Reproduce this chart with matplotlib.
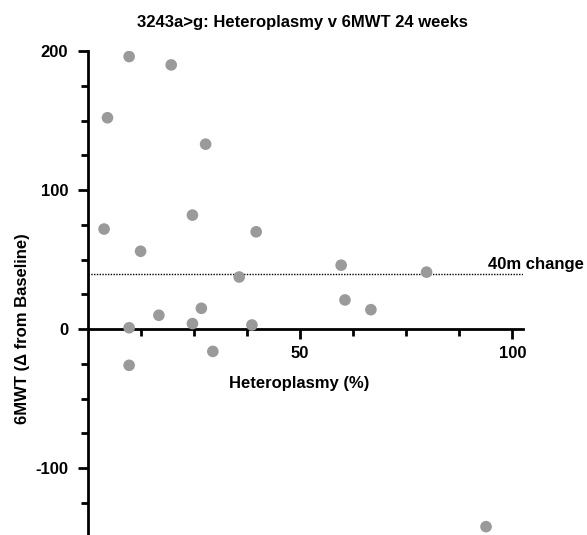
import matplotlib
matplotlib.use("Agg")
import matplotlib.pyplot as plt
from matplotlib.ticker import MultipleLocator, FixedLocator

plt.rcParams['font.family'] = ['Liberation Sans', 'DejaVu Sans']
plt.rcParams['axes.unicode_minus'] = False

heteroplasmy = [9.8, 19.7, 4.7, 27.8, 24.7, 3.9, 39.7, 12.5, 35.7, 59.7, 79.8,
                60.6, 66.7, 16.8, 26.8, 24.7, 38.7, 9.8, 29.5, 9.8, 93.8]
mwt_change = [196, 190, 152, 133, 82, 72, 70, 56, 37.5, 46, 41,
              21, 14, 10, 15, 4, 3, 1, -16, -26, -142]
threshold = 40
title = "3243a>g: Heteroplasmy v 6MWT 24 weeks"

fig = plt.figure(figsize=(5.87, 5.35), dpi=100)
ax = fig.add_axes([87.5/587, 0.0, (523-87.5)/587, (535-51)/535])
ax.set_xlim(0, 102.5)
ax.set_ylim(-148, 200)

ax.scatter(heteroplasmy, mwt_change, s=70, color='#9a9a9a', edgecolors='none', zorder=3)
ax.axhline(threshold, color='black', linestyle=(0, (1, 1)), linewidth=1.0, xmax=1.0)
ax.text(94.3, 46.5, "40m change", fontsize=12, fontweight='bold', va='center', ha='left', clip_on=False)

for s in ['top', 'right']:
    ax.spines[s].set_visible(False)
ax.spines['bottom'].set_position(('data', 0))
ax.spines['left'].set_linewidth(2)
ax.spines['bottom'].set_linewidth(2)

ax.xaxis.set_major_locator(FixedLocator([50, 100]))
ax.xaxis.set_minor_locator(FixedLocator([12.5, 25, 37.5, 62.5, 75, 87.5]))
ax.yaxis.set_major_locator(FixedLocator([-100, 0, 100, 200]))
ax.yaxis.set_minor_locator(MultipleLocator(25))
ax.tick_params(which='major', length=7, width=2, labelsize=12, pad=7)
ax.tick_params(axis='x', which='major', pad=5)
ax.tick_params(which='minor', length=5, width=2)
for lab in ax.get_xticklabels() + ax.get_yticklabels():
    lab.set_fontweight('bold')

ax.set_xlabel("Heteroplasmy (%)", fontsize=12, fontweight='bold')
ax.xaxis.set_label_coords(0.487, (535-376)/484, transform=ax.transAxes)
ax.set_ylabel("6MWT (Δ from Baseline)", fontsize=12, fontweight='bold')
ax.yaxis.set_label_coords(-57/435.5, (535-329)/484)

fig.text(302/587, 1 - 23/535, title, fontsize=12, fontweight='bold', ha='center', va='center')

fig.savefig("out.png", dpi=100)
